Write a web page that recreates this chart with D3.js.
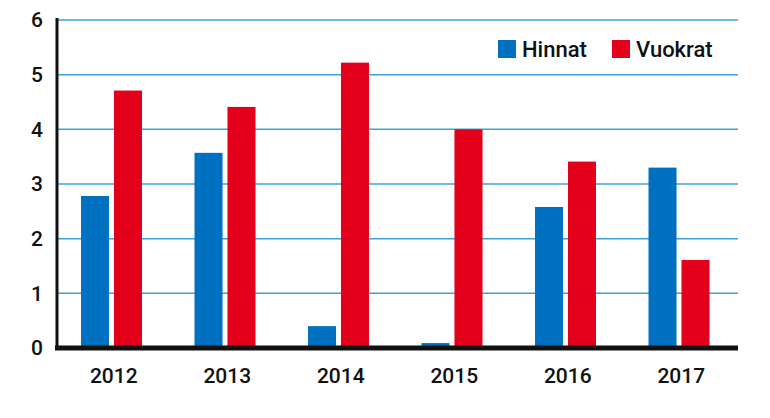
<!DOCTYPE html>
<html><head><meta charset="utf-8">
<script src="https://cdn.jsdelivr.net/npm/d3@7"></script>
<style>body{margin:0;background:#fff}text{font-family:Roboto,"Liberation Sans",sans-serif;font-weight:500}</style>
</head><body><svg width="770" height="418"></svg>
<script>
const years = ["2012","2013","2014","2015","2016","2017"];
const hinnat = [2.78,3.57,0.4,0.09,2.58,3.3];
const vuokrat = [4.71,4.41,5.22,4.0,3.41,1.61];
const yTicks = [0,1,2,3,4,5,6];
const series = [{name:"Hinnat",values:hinnat,color:"#0070c0"},{name:"Vuokrat",values:vuokrat,color:"#e2001a"}];

const svg = d3.select("svg");
const L=57,R=738,T=20,B=348;
const x = d3.scaleBand().domain(years).range([L,R]);
const xi = d3.scaleBand().domain(series.map(s=>s.name)).range([24,24+61]).paddingInner(0.15);
const y = d3.scaleLinear().domain([0,6]).range([B,T]);

svg.append("g").selectAll("line").data(yTicks.slice(1)).join("line")
 .attr("x1",L).attr("x2",R).attr("y1",d=>y(d)).attr("y2",d=>y(d))
 .attr("stroke","#3fa0d8").attr("stroke-width",1.5);

series.forEach(s=>{
 svg.append("g").selectAll("rect").data(years).join("rect")
  .attr("x",d=>x(d)+xi(s.name)).attr("width",xi.bandwidth())
  .attr("y",(d,i)=>y(s.values[i])).attr("height",(d,i)=>B-y(s.values[i]))
  .attr("fill",s.color);
});

const ya = svg.append("g").attr("transform",`translate(${L},0)`).call(d3.axisLeft(y).tickValues(yTicks).tickFormat(d3.format("d")).tickSize(0).tickPadding(14));
ya.select(".domain").remove();
ya.selectAll("text").attr("font-size",21).attr("fill","#111");
svg.append("line").attr("x1",L).attr("x2",L).attr("y1",T-2).attr("y2",B).attr("stroke","#111").attr("stroke-width",3);

const xa = svg.append("g").attr("transform",`translate(0,${B})`).call(d3.axisBottom(x).tickSize(0).tickPadding(20));
xa.select(".domain").remove();
xa.selectAll("text").attr("font-size",21).attr("fill","#111");
svg.append("line").attr("x1",L-2).attr("x2",R).attr("y1",B).attr("y2",B).attr("stroke","#111").attr("stroke-width",5);

const lg = [{x:498},{x:612}];
series.forEach((s,i)=>{
 svg.append("rect").attr("x",lg[i].x).attr("y",40).attr("width",18).attr("height",18).attr("fill",s.color);
 svg.append("text").attr("x",lg[i].x+24).attr("y",57).attr("font-size",22).attr("fill","#111").text(s.name);
});
</script></body></html>
